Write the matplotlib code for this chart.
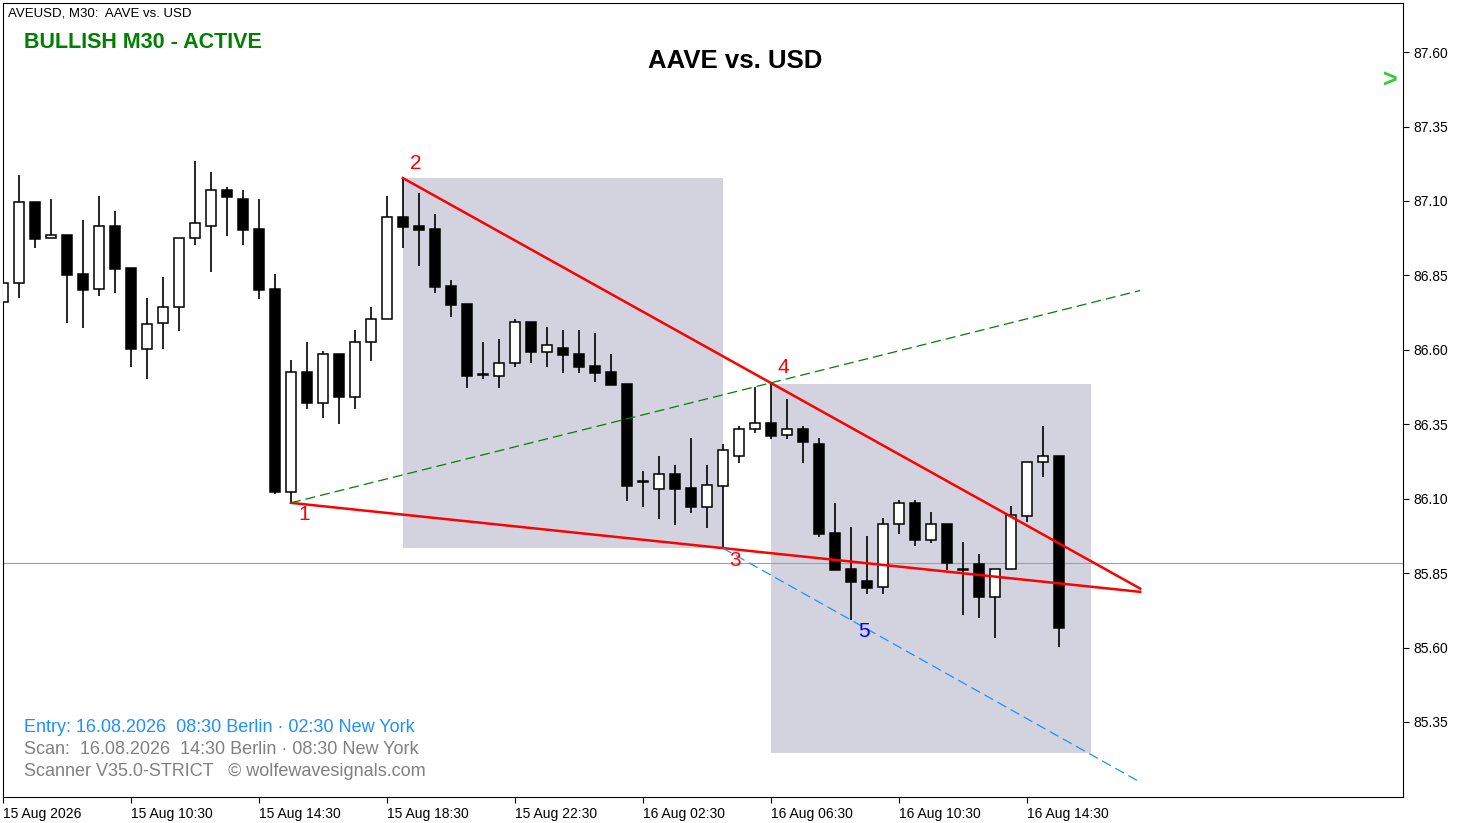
import numpy as np
import matplotlib.pyplot as plt
from matplotlib.patches import Rectangle

plt.rcParams['font.family'] = ['Liberation Sans', 'DejaVu Sans']

# OHLC, 30-minute candles starting 15 Aug 2026 06:30
opens = [86.760, 86.824, 87.096, 86.975, 86.985, 86.854, 86.804, 87.016, 86.875, 86.603,
         86.690, 86.744, 86.975, 87.016, 87.137, 87.106, 87.006, 86.804, 86.122, 86.525,
         86.421, 86.586, 86.441, 86.626, 86.703, 87.046, 87.016, 87.006, 86.814, 86.754,
         86.515, 86.512, 86.556, 86.693, 86.593, 86.606, 86.586, 86.546, 86.525, 86.485,
         86.156, 86.133, 86.183, 86.136, 86.072, 86.143, 86.243, 86.334, 86.354, 86.314,
         86.334, 86.284, 85.985, 85.864, 85.824, 85.803, 86.015, 86.086, 85.961, 86.015,
         85.860, 85.881, 85.770, 85.864, 86.042, 86.223, 86.243]
highs = [86.834, 87.187, 87.096, 87.106, 86.985, 87.036, 87.117, 87.066, 86.875, 86.774,
         86.844, 86.975, 87.234, 87.197, 87.147, 87.137, 87.106, 86.854, 86.566, 86.626,
         86.596, 86.586, 86.666, 86.744, 87.117, 87.177, 87.127, 87.056, 86.834, 86.754,
         86.626, 86.636, 86.703, 86.693, 86.677, 86.666, 86.666, 86.656, 86.586, 86.485,
         86.193, 86.243, 86.213, 86.304, 86.213, 86.284, 86.344, 86.475, 86.489, 86.435,
         86.344, 86.304, 86.085, 86.005, 85.975, 86.035, 86.096, 86.096, 86.055, 86.015,
         85.955, 85.914, 85.864, 86.075, 86.223, 86.344, 86.243]
lows = [86.760, 86.774, 86.942, 86.975, 86.690, 86.673, 86.781, 86.791, 86.542, 86.502,
        86.603, 86.663, 86.952, 86.861, 86.982, 86.952, 86.771, 86.116, 86.086, 86.401,
        86.371, 86.351, 86.401, 86.562, 86.703, 86.942, 86.881, 86.791, 86.710, 86.472,
        86.502, 86.472, 86.542, 86.556, 86.542, 86.522, 86.522, 86.492, 86.482, 86.092,
        86.072, 86.032, 86.012, 86.052, 86.002, 85.934, 86.220, 86.321, 86.300, 86.300,
        86.220, 85.971, 85.860, 85.693, 85.780, 85.780, 85.981, 85.941, 85.951, 85.860,
        85.709, 85.699, 85.632, 85.864, 86.022, 86.173, 85.602]
closes = [86.824, 87.096, 86.972, 86.985, 86.851, 86.801, 87.016, 86.871, 86.603, 86.687,
          86.744, 86.975, 87.026, 87.137, 87.113, 87.002, 86.801, 86.122, 86.525, 86.421,
          86.586, 86.441, 86.626, 86.703, 87.046, 87.012, 87.002, 86.811, 86.750, 86.512,
          86.515, 86.556, 86.693, 86.593, 86.616, 86.583, 86.542, 86.522, 86.482, 86.143,
          86.156, 86.183, 86.133, 86.072, 86.146, 86.264, 86.334, 86.354, 86.311, 86.334,
          86.290, 85.981, 85.860, 85.820, 85.800, 86.015, 86.086, 85.961, 86.015, 85.884,
          85.860, 85.770, 85.864, 86.045, 86.223, 86.243, 85.666]

time_labels = ['15 Aug 2026', '15 Aug 10:30', '15 Aug 14:30', '15 Aug 18:30', '15 Aug 22:30',
               '16 Aug 02:30', '16 Aug 06:30', '16 Aug 10:30', '16 Aug 14:30']
price_ticks = [85.35, 85.60, 85.85, 86.10, 86.35, 86.60, 86.85, 87.10, 87.35, 87.60]

# wolfe wave points (bar index, price)
wave_x = [18, 25, 45, 48, 53]
wave_y = [86.086, 87.177, 85.934, 86.489, 85.693]
line_end_x = 71.1
box1 = (25, 45, 85.934, 87.177)
box2 = (48, 68, 85.246, 86.485)
current_price = 85.884

fig = plt.figure(figsize=(14.64, 8.23), dpi=100)
ax = fig.add_axes([3/1464, 26/823, 1400/1464, 794/823])
ax.set_xlim(0.03, 87.53)
ax.set_ylim(85.098, 87.765)

box_col = '#d3d3e0'
for x0, x1, y0, y1 in (box1, box2):
    ax.add_patch(Rectangle((x0, y0), x1 - x0, y1 - y0, facecolor=box_col, edgecolor='none', zorder=0))

ax.axhline(current_price, color='#a0a0a0', lw=0.8, zorder=1)

w = 0.62
for i in range(len(opens)):
    o, h, l, c = opens[i], highs[i], lows[i], closes[i]
    ax.vlines(i, l, h, color='black', lw=1.2, zorder=3)
    fc = 'white' if c >= o else 'black'
    lo, hi = min(o, c), max(o, c)
    ax.add_patch(Rectangle((i - w/2, lo), w, max(hi - lo, 0.003), facecolor=fc,
                           edgecolor='black', lw=1.1, zorder=4))

def line_at(xa, ya, xb, yb, x):
    return ya + (yb - ya) * (x - xa) / (xb - xa)

# 1-3 and 2-4 lines
ax.plot([wave_x[0], line_end_x], [wave_y[0], line_at(wave_x[0], wave_y[0], wave_x[2], wave_y[2], line_end_x)],
        color='red', lw=1.8, zorder=5)
ax.plot([wave_x[1], line_end_x], [wave_y[1], line_at(wave_x[1], wave_y[1], wave_x[3], wave_y[3], line_end_x)],
        color='red', lw=1.8, zorder=5)
# 1-4 line
ax.plot([wave_x[0], line_end_x], [wave_y[0], line_at(wave_x[0], wave_y[0], wave_x[3], wave_y[3], line_end_x)],
        color='green', lw=0.9, ls=(0, (8, 4)), zorder=5)
# 3-5 line
ax.plot([wave_x[2], line_end_x], [wave_y[2], line_at(wave_x[2], wave_y[2], wave_x[4], wave_y[4], line_end_x)],
        color='#1e90ff', lw=0.9, ls=(0, (8, 4)), zorder=5)

lab_off = [(0.8, -0.04), (0.8, 0.05), (0.8, -0.04), (0.8, 0.05), (0.8, -0.04)]
for n in range(5):
    ax.text(wave_x[n] + lab_off[n][0], wave_y[n] + lab_off[n][1], str(n + 1),
            color='blue' if n == 4 else 'red', fontsize=15, ha='center', va='center', zorder=6)

ax.yaxis.tick_right()
ax.set_yticks(price_ticks)
ax.set_yticklabels([f'{p:.2f}' for p in price_ticks])
ax.set_xticks(np.arange(0, 65, 8))
ax.set_xticklabels(time_labels, ha='left')
ax.tick_params(labelsize=10, length=4, direction='out')
for s in ax.spines.values():
    s.set_color('black')

fig.text(8/1464, 1 - 13/823, 'AVEUSD, M30:  AAVE vs. USD', fontsize=9.5, va='center')
fig.text(24/1464, 1 - 42/823, 'BULLISH M30 - ACTIVE', fontsize=15.5, color='#008000',
         fontweight='bold', va='center')
fig.text(735/1464, 1 - 61/823, 'AAVE vs. USD', fontsize=18.5, fontweight='bold', ha='center', va='center')
fig.text(1390/1464, 1 - 81/823, '>', fontsize=18, color='#32cd32', fontweight='bold', ha='center', va='center')
fig.text(24/1464, 1 - 727/823, 'Entry: 16.08.2026  08:30 Berlin · 02:30 New York', fontsize=13,
         color='#1e90ff', va='center')
fig.text(24/1464, 1 - 749/823, 'Scan:  16.08.2026  14:30 Berlin · 08:30 New York', fontsize=13,
         color='#808080', va='center')
fig.text(24/1464, 1 - 771/823, 'Scanner V35.0-STRICT   © wolfewavesignals.com', fontsize=13,
         color='#808080', va='center')

fig.savefig('out.png', dpi=100)
